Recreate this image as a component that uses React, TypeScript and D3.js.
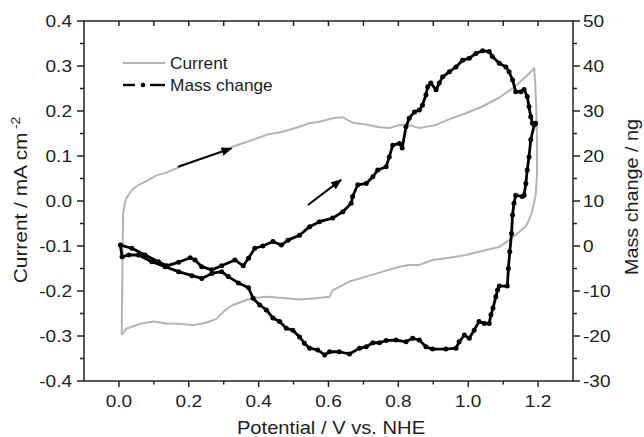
import React from "react";
import * as d3 from "d3";

// ---------- data ----------
const xTickValues = [0.0, 0.2, 0.4, 0.6, 0.8, 1.0, 1.2];
const xTickLabels = ["0.0", "0.2", "0.4", "0.6", "0.8", "1.0", "1.2"];
const xMinorValues = [0.1, 0.3, 0.5, 0.7, 0.9, 1.1];
const xTopTickValues = [0.0, 0.1, 0.2, 0.3, 0.4, 0.5, 0.6, 0.7, 0.8, 0.9, 1.0, 1.1, 1.2];

const yLeftTickValues = [0.4, 0.3, 0.2, 0.1, 0.0, -0.1, -0.2, -0.3, -0.4];
const yLeftTickLabels = ["0.4", "0.3", "0.2", "0.1", "0.0", "-0.1", "-0.2", "-0.3", "-0.4"];
const yLeftMinorValues = [0.35, 0.25, 0.15, 0.05, -0.05, -0.15, -0.25, -0.35];

const yRightTickValues = [50, 40, 30, 20, 10, 0, -10, -20, -30];
const yRightTickLabels = ["50", "40", "30", "20", "10", "0", "-10", "-20", "-30"];
const yRightMinorValues = [45, 35, 25, 15, 5, -5, -15, -25];

// Current (gray): anodic sweep, from the vertical rise at 0 V up to 1.2 V
const currentAnodic: [number, number][] = [
  [0.008, -0.298], [0.009, -0.22], [0.011, -0.087], [0.012, -0.027], [0.017, -0.004],
  [0.022, 0.007], [0.031, 0.018], [0.041, 0.027], [0.057, 0.036], [0.079, 0.044],
  [0.108, 0.057], [0.136, 0.063], [0.174, 0.076], [0.211, 0.087], [0.251, 0.098],
  [0.289, 0.109], [0.327, 0.121], [0.384, 0.136], [0.422, 0.147], [0.469, 0.154],
  [0.517, 0.165], [0.546, 0.173], [0.574, 0.176], [0.612, 0.184], [0.641, 0.186],
  [0.669, 0.174], [0.708, 0.170], [0.746, 0.164], [0.774, 0.162], [0.803, 0.169],
  [0.831, 0.169], [0.860, 0.162], [0.908, 0.169], [0.946, 0.182], [0.993, 0.195],
  [1.041, 0.210], [1.089, 0.230], [1.127, 0.250], [1.165, 0.276], [1.189, 0.295],
];
// Current (gray): cathodic sweep, from 1.2 V back to 0 V
const currentCathodic: [number, number][] = [
  [1.192, 0.258], [1.195, 0.202], [1.197, 0.136], [1.197, 0.058], [1.193, 0.013],
  [1.184, -0.02], [1.174, -0.042], [1.165, -0.056], [1.146, -0.069], [1.117, -0.087],
  [1.089, -0.102], [1.051, -0.109], [0.993, -0.12], [0.936, -0.127], [0.898, -0.131],
  [0.860, -0.142], [0.831, -0.142], [0.803, -0.146], [0.755, -0.157], [0.708, -0.168],
  [0.660, -0.179], [0.612, -0.198], [0.603, -0.213], [0.565, -0.216], [0.517, -0.219],
  [0.479, -0.216], [0.422, -0.213], [0.384, -0.216], [0.365, -0.22], [0.327, -0.231],
  [0.308, -0.24], [0.279, -0.262], [0.251, -0.27], [0.212, -0.276], [0.174, -0.273],
  [0.136, -0.272], [0.098, -0.268], [0.060, -0.273], [0.031, -0.281], [0.022, -0.283],
  [0.008, -0.298],
];

// Mass change (black): anodic sweep
const massAnodic: [number, number][] = [
  [0.004, 0.2], [0.037, -0.5], [0.075, -2.0], [0.113, -3.5], [0.137, -4.4],
  [0.171, -3.6], [0.204, -2.6], [0.218, -3.1], [0.237, -4.6], [0.266, -5.3],
  [0.294, -4.4], [0.332, -3.1], [0.356, -4.4], [0.371, -2.7], [0.389, -0.5],
  [0.412, 0.0], [0.441, 1.0], [0.465, 0.2], [0.484, 1.3], [0.517, 2.4],
  [0.546, 4.3], [0.574, 5.4], [0.612, 6.2], [0.641, 7.6], [0.665, 9.5],
  [0.669, 11.0], [0.684, 13.6], [0.708, 13.9], [0.727, 15.4], [0.741, 16.9],
  [0.765, 17.6], [0.774, 19.8], [0.784, 22.4], [0.803, 22.8], [0.811, 21.8],
  [0.822, 26.5], [0.831, 28.4], [0.846, 29.8], [0.860, 30.2], [0.869, 31.3],
  [0.879, 33.6], [0.884, 35.4], [0.893, 36.2], [0.908, 34.7], [0.917, 36.2],
  [0.927, 37.6], [0.946, 38.7], [0.965, 39.8], [0.984, 41.3], [1.003, 41.7],
  [1.022, 42.8], [1.041, 43.4], [1.060, 43.2], [1.069, 42.1], [1.089, 40.6],
  [1.108, 39.8], [1.117, 38.7], [1.127, 36.9], [1.136, 34.3], [1.151, 34.3],
  [1.160, 34.8], [1.169, 33.2], [1.174, 31.0], [1.179, 28.7], [1.184, 27.3],
  [1.193, 27.3],
];
// Mass change (black): cathodic sweep
const massCathodic: [number, number][] = [
  [1.189, 26.9], [1.179, 23.6], [1.174, 19.8], [1.169, 16.9], [1.165, 13.9],
  [1.160, 11.3], [1.155, 11.0], [1.136, 11.3], [1.131, 9.5], [1.127, 6.9],
  [1.124, 2.8], [1.119, -1.3], [1.115, -5.0], [1.112, -8.9], [1.089, -8.9],
  [1.084, -9.8], [1.079, -11.3], [1.071, -13.8], [1.065, -15.3], [1.060, -17.2],
  [1.046, -17.2], [1.031, -16.8], [1.017, -18.7], [1.003, -20.5], [0.989, -19.8],
  [0.974, -21.3], [0.965, -22.7], [0.936, -22.9], [0.898, -22.9], [0.879, -22.4],
  [0.860, -20.9], [0.841, -20.5], [0.822, -21.3], [0.793, -20.9], [0.765, -21.0],
  [0.746, -21.5], [0.727, -21.5], [0.708, -22.4], [0.689, -22.7], [0.660, -24.0],
  [0.631, -23.5], [0.603, -23.5], [0.589, -24.2], [0.569, -23.1], [0.546, -22.7],
  [0.531, -21.6], [0.517, -20.2], [0.498, -18.7], [0.479, -18.3], [0.460, -16.8],
  [0.441, -16.0], [0.422, -14.2], [0.403, -13.1], [0.384, -11.6], [0.371, -9.3],
  [0.342, -8.2], [0.313, -6.8], [0.294, -5.7], [0.266, -6.1], [0.237, -7.2],
  [0.209, -6.6], [0.171, -5.7], [0.132, -4.6], [0.094, -3.5], [0.056, -2.0],
  [0.028, -2.0], [0.009, -2.4],
];

// Sweep-direction arrows [start, tip] in (V, current) units
const arrowsData: [[number, number], [number, number]][] = [
  [[0.169, 0.076], [0.322, 0.117]],
  [[0.541, -0.009], [0.636, 0.047]],
];

const legendLabels = ["Current", "Mass change"];

// ---------- layout ----------
const W = 644;
const H = 437;
const X0 = 84, X1 = 573, Y0 = 21, Y1 = 381;
const FONT = "'Liberation Sans', Arial, Helvetica, sans-serif";
const AXIS = "#222";
const TXT = "#1e1e1e";
const GRAY = "#b4b4b4";

const x = d3.scaleLinear().domain([-0.1, 1.3]).range([X0, X1]);
const yL = d3.scaleLinear().domain([-0.4, 0.4]).range([Y1, Y0]);
const yR = d3.scaleLinear().domain([-30, 50]).range([Y1, Y0]);

function T(props: {
  x: number; y: number; rot?: number; sx?: number; anchor?: string; size: number; children: React.ReactNode;
}) {
  const { rot = 0, sx = 1, anchor = "start" } = props;
  return (
    <g transform={`translate(${props.x},${props.y}) rotate(${rot}) scale(${sx},1)`}>
      <text textAnchor={anchor as any} fontSize={props.size} fontFamily={FONT} fill={TXT}>
        {props.children}
      </text>
    </g>
  );
}

export default function App() {
  const currentLine = d3
    .line<[number, number]>()
    .x((d) => x(d[0]))
    .y((d) => yL(d[1]));
  const massLine = d3
    .line<[number, number]>()
    .x((d) => x(d[0]))
    .y((d) => yR(d[1]));

  const currentPts = [...currentAnodic, ...currentCathodic];
  const massPts = [...massAnodic, ...massCathodic, massAnodic[0]];
  const massDots = [...massAnodic, ...massCathodic];

  const lx0 = 123, lx1 = 165;

  return (
    <svg
      width={W}
      height={H}
      viewBox={`0 0 ${W} ${H}`}
      style={{ position: "absolute", left: 0, top: 0, background: "#fff" }}
    >
      <defs>
        <marker id="ah" viewBox="0 0 10 10" refX="9" refY="5" markerWidth="5.5" markerHeight="5.5" orient="auto" markerUnits="strokeWidth">
          <path d="M0,1 L10,5 L0,9 z" fill="#000" />
        </marker>
      </defs>
      <rect x={0} y={0} width={W} height={H} fill="#fff" />

      {/* current curve */}
      <path d={currentLine(currentPts) || ""} fill="none" stroke={GRAY} strokeWidth={2} strokeLinejoin="round" />

      {/* mass curve */}
      <path d={massLine(massPts) || ""} fill="none" stroke="#000" strokeWidth={2.8} strokeLinejoin="round" />
      {massDots.map((d, i) => (
        <circle key={i} cx={x(d[0])} cy={yR(d[1])} r={2.5} fill="#000" />
      ))}

      {/* arrows */}
      {arrowsData.map((a, i) => (
        <line key={i} x1={x(a[0][0])} y1={yL(a[0][1])} x2={x(a[1][0])} y2={yL(a[1][1])}
          stroke="#000" strokeWidth={2} markerEnd="url(#ah)" />
      ))}

      {/* frame */}
      <rect x={X0} y={Y0} width={X1 - X0} height={Y1 - Y0} fill="none" stroke={AXIS} strokeWidth={1.5} />

      {/* bottom ticks */}
      {xTickValues.map((v, i) => (
        <g key={"xb" + i}>
          <line x1={x(v)} x2={x(v)} y1={Y1} y2={Y1 + 6} stroke={AXIS} strokeWidth={1.5} />
          <T x={x(v)} y={407} anchor="middle" size={17} sx={1.12}>{xTickLabels[i]}</T>
        </g>
      ))}
      {xMinorValues.map((v, i) => (
        <line key={"xm" + i} x1={x(v)} x2={x(v)} y1={Y1} y2={Y1 + 3.5} stroke={AXIS} strokeWidth={1.5} />
      ))}
      {/* top ticks (inward) */}
      {xTopTickValues.map((v, i) => (
        <line key={"xt" + i} x1={x(v)} x2={x(v)} y1={Y0} y2={Y0 + 5} stroke={AXIS} strokeWidth={1.5} />
      ))}

      {/* left axis */}
      {yLeftTickValues.map((v, i) => (
        <g key={"yl" + i}>
          <line x1={X0 - 7} x2={X0} y1={yL(v)} y2={yL(v)} stroke={AXIS} strokeWidth={1.5} />
          <T x={72} y={yL(v) + 6} anchor="end" size={17} sx={1.12}>{yLeftTickLabels[i]}</T>
        </g>
      ))}
      {yLeftMinorValues.map((v, i) => (
        <line key={"ylm" + i} x1={X0 - 4} x2={X0} y1={yL(v)} y2={yL(v)} stroke={AXIS} strokeWidth={1.5} />
      ))}

      {/* right axis */}
      {yRightTickValues.map((v, i) => (
        <g key={"yr" + i}>
          <line x1={X1} x2={X1 + 7} y1={yR(v)} y2={yR(v)} stroke={AXIS} strokeWidth={1.5} />
          <T x={583} y={yR(v) + 6} anchor="start" size={17} sx={1.12}>{yRightTickLabels[i]}</T>
        </g>
      ))}
      {yRightMinorValues.map((v, i) => (
        <line key={"yrm" + i} x1={X1} x2={X1 + 4} y1={yR(v)} y2={yR(v)} stroke={AXIS} strokeWidth={1.5} />
      ))}

      {/* axis titles */}
      <T x={331} y={434} anchor="middle" size={18} sx={1.12}>Potential / V vs. NHE</T>
      <T x={27} y={200} rot={-90} anchor="middle" size={18} sx={1.16}>
        Current / mA cm<tspan dx={3} dy={-7} fontSize={12}>-2</tspan>
      </T>
      <T x={638} y={197} rot={-90} anchor="middle" size={18} sx={1.1}>Mass change / ng</T>

      {/* legend */}
      <line x1={lx0} x2={lx1} y1={63} y2={63} stroke={GRAY} strokeWidth={2} />
      <T x={170} y={68.5} size={16} sx={1.08}>{legendLabels[0]}</T>
      <line x1={lx0} x2={135} y1={85} y2={85} stroke="#000" strokeWidth={2.4} />
      <line x1={150} x2={lx1} y1={85} y2={85} stroke="#000" strokeWidth={2.4} />
      <circle cx={143} cy={85} r={2.3} fill="#000" />
      <T x={170} y={90.5} size={16} sx={1.08}>{legendLabels[1]}</T>
    </svg>
  );
}
